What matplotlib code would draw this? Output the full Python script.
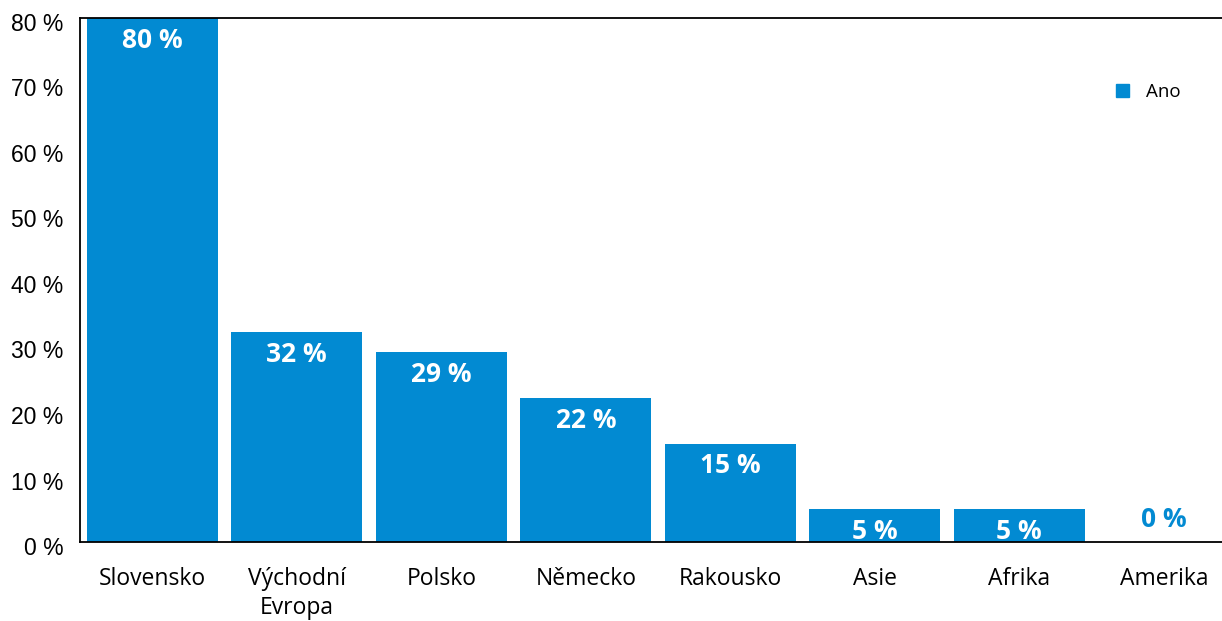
import numpy as np
import matplotlib
matplotlib.use("Agg")
from matplotlib import pyplot as plt
from matplotlib.patches import Patch
from matplotlib.transforms import ScaledTranslation

# data
categories = ["Slovensko", "Východní\nEvropa", "Polsko", "Německo", "Rakousko", "Asie", "Afrika", "Amerika"]
values = [80, 32, 29, 22, 15, 5, 5, 0]
yticks = [0, 10, 20, 30, 40, 50, 60, 70, 80]
series_name = "Ano"

blue = "#028AD2"

fig = plt.figure(figsize=(12.22, 6.21), dpi=100)
ax = fig.add_axes([80/1222, 1 - 542/621, 1156/1222, 524/621])

x = np.arange(len(categories))
ax.bar(x, values, width=0.906, color=blue, zorder=2)

for xi, v in zip(x, values):
    # zero value sits above the axis in blue, the rest inside the bar in white
    col = "white" if v > 0 else blue
    off = -16 if v > 0 else 16
    ax.annotate(f"{v} %", (xi, v), xytext=(0, off), textcoords="offset points",
                ha="center", va="center", color=col, fontsize=19,
                fontweight="bold", family="Open Sans", zorder=3)

ax.set_xlim(-0.5, len(categories) - 0.5)
ax.set_ylim(0, 80)
ax.set_yticks(yticks)
ax.set_yticklabels([f"{t} %" for t in yticks], family="Liberation Sans", fontsize=16.5)
ax.set_xticks(x)
ax.set_xticklabels(categories, family="Open Sans", fontsize=16.5, linespacing=1.25)
ax.tick_params(axis="both", length=0)
ax.tick_params(axis="x", pad=18)
ax.tick_params(axis="y", pad=12)
shift = ScaledTranslation(0, -4/100, fig.dpi_scale_trans)
for lbl in ax.get_yticklabels():
    lbl.set_transform(lbl.get_transform() + shift)

for side in ["left", "bottom", "top"]:
    ax.spines[side].set_color("black")
    ax.spines[side].set_linewidth(1.3)
ax.spines["right"].set_visible(False)

handle = Patch(color=blue, label=series_name)
leg = ax.legend(handles=[handle], loc="upper left", bbox_to_anchor=(1019/1156, 1 - 48/524),
                frameon=False, handlelength=0.7, handleheight=0.7, handletextpad=0.9,
                prop={"family": "Open Sans", "size": 13.5})

fig.savefig("out.png", dpi=100)
